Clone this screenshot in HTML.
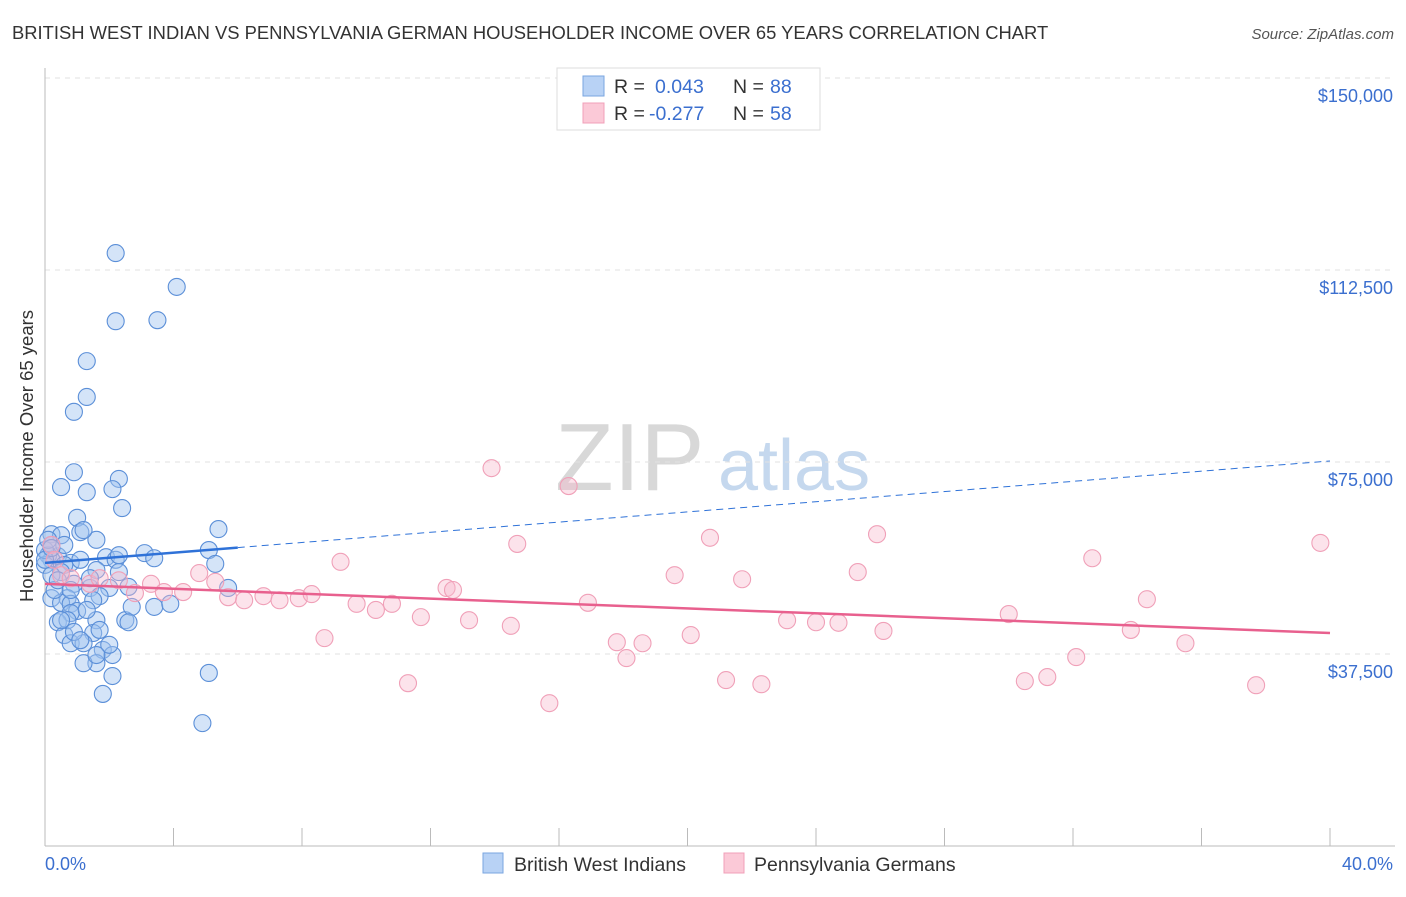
<!DOCTYPE html>
<html><head><meta charset="utf-8"><style>
body{margin:0;background:#fff;font-family:"Liberation Sans",sans-serif}
svg text{font-family:"Liberation Sans",sans-serif}
</style></head><body>
<svg id="c" width="1406" height="892" xmlns="http://www.w3.org/2000/svg">
<text x="12" y="39" font-size="18.4" fill="#333">BRITISH WEST INDIAN VS PENNSYLVANIA GERMAN HOUSEHOLDER INCOME OVER 65 YEARS CORRELATION CHART</text>
<text x="1394" y="39" font-size="15" fill="#555" font-style="italic" text-anchor="end">Source: ZipAtlas.com</text>
<g><text x="555" y="490" font-size="96" font-family="Liberation Serif,serif" fill="#d8d8d8">ZIP</text><text x="718" y="490" font-size="72" fill="#c5d8ee">atlas</text></g>
<g id="grid"></g><g id="axes"></g><g id="pts"></g><g id="trend"></g>
<text x="33" y="456" font-size="18.5" fill="#333" transform="rotate(-90 33 456)" text-anchor="middle">Householder Income Over 65 years</text>
<text x="45" y="870" font-size="18" fill="#3b6fcf">0.0%</text>
<text x="1393" y="870" font-size="18" fill="#3b6fcf" text-anchor="end">40.0%</text>
<g>
<rect x="557" y="68" width="263" height="62" fill="#fff" stroke="#ddd"/>
<rect x="583" y="76" width="21" height="20" fill="#b8d2f5" stroke="#7aa6e0"/>
<rect x="583" y="103" width="21" height="20" fill="#fbc9d7" stroke="#f0a0b8"/>
<text x="614" y="93" font-size="19.5" fill="#333">R = </text><text x="655" y="93" font-size="19.5" fill="#3b6fcf">0.043</text>
<text x="733" y="93" font-size="19.5" fill="#333">N = </text><text x="770" y="93" font-size="19.5" fill="#3b6fcf">88</text>
<text x="614" y="120" font-size="19.5" fill="#333">R = </text><text x="649" y="120" font-size="19.5" fill="#3b6fcf">-0.277</text>
<text x="733" y="120" font-size="19.5" fill="#333">N = </text><text x="770" y="120" font-size="19.5" fill="#3b6fcf">58</text>
</g>
<g>
<rect x="483" y="853" width="20" height="20" fill="#b8d2f5" stroke="#7aa6e0"/>
<text x="514" y="871" font-size="19.5" fill="#333">British West Indians</text>
<rect x="724" y="853" width="20" height="20" fill="#fbc9d7" stroke="#f0a0b8"/>
<text x="754" y="871" font-size="19.5" fill="#333">Pennsylvania Germans</text>
</g>
</svg>
<script>
const yTicks=[37500,75000,112500,150000];
const yTickLabels=["$37,500","$75,000","$112,500","$150,000"];
const xTicks=[0,4,8,12,16,20,24,28,32,36,40];
const blueX=[2.2,4.1,2.2,3.5,1.3,1.3,0.9,0.9,0.5,1.3,2.3,2.1,2.4,5.4,1.0,0.2,0.5,1.1,1.6,1.2,0.4,0.8,1.9,3.1,2.2,3.4,5.1,5.3,0.2,0.1,0.2,0.6,0.5,1.6,2.3,0.9,1.4,2.0,2.6,5.7,0.7,1.7,0.2,0.5,0.8,1.0,0.8,0.4,0.6,0.8,1.6,1.5,1.7,1.2,1.8,2.1,2.5,2.7,3.4,3.9,1.6,1.2,2.1,1.8,5.1,4.9,0.0,0.0,0.1,0.2,0.3,0.6,1.1,1.4,2.6,2.0,1.6,0.7,0.9,1.5,0.0,0.2,0.4,0.8,0.5,1.1,1.3,2.3];
const blueY=[115.8,109.2,102.5,102.7,94.7,87.7,84.8,73.0,70.1,69.1,71.7,69.7,66.0,61.9,64.1,60.9,60.7,61.3,59.8,61.7,56.6,55.3,56.4,57.2,55.9,56.2,57.8,55.1,58.8,56.8,55.9,54.9,53.5,53.9,53.5,51.2,50.4,50.4,50.6,50.4,48.4,48.8,48.4,47.5,47.3,45.9,45.5,43.7,41.2,39.6,44.1,41.6,42.2,39.6,38.3,37.3,44.1,46.7,46.7,47.3,35.7,35.7,33.2,29.7,33.8,24.0,54.9,57.8,59.8,52.9,50.0,58.8,55.9,52.3,43.7,39.3,37.3,44.1,41.8,48.0,55.9,58.2,51.9,50.0,44.1,40.2,46.1,56.8];
const pinkX=[0.2,0.3,0.5,0.8,1.4,1.7,2.3,2.8,3.3,3.7,4.3,4.8,5.3,5.7,6.2,6.8,7.3,7.9,8.3,8.7,9.2,9.7,10.3,10.8,11.3,11.7,12.5,12.7,13.2,13.9,14.5,14.7,15.7,16.3,16.9,17.8,18.1,18.6,19.6,20.1,20.7,21.2,21.7,22.3,23.1,24.0,24.7,25.3,25.9,26.1,30.0,30.5,31.2,32.1,32.6,33.8,34.3,35.5,37.7,39.7];
const pinkY=[58.8,55.9,52.9,52.3,51.2,52.3,51.9,49.4,51.2,49.6,49.6,53.3,51.6,48.6,48.0,48.8,48.0,48.4,49.2,40.6,55.5,47.3,46.1,47.3,31.8,44.7,50.4,50.0,44.1,73.8,43.0,59.0,27.9,70.3,47.5,39.8,36.7,39.6,52.9,41.2,60.2,32.4,52.1,31.6,44.1,43.7,43.6,53.5,60.9,42.0,45.3,32.2,33.0,36.9,56.2,42.2,48.2,39.6,31.4,59.2];
const blueTrend=[55.3,75.2]; // $k at 0% and 40%
const pinkTrend=[51.2,41.6];
const blueSolidEnd=6.0;
const NS="http://www.w3.org/2000/svg";
const X=v=>45+v/40*1285, Y=v=>846-v/37500*192;
function mk(t,a,p){const e=document.createElementNS(NS,t);for(const k in a)e.setAttribute(k,a[k]);p.appendChild(e);return e;}
const g=document.getElementById('grid'),ax=document.getElementById('axes'),pts=document.getElementById('pts'),tr=document.getElementById('trend');
yTicks.forEach((v,i)=>{
 const l=mk('line',{x1:45,x2:1395,y1:Y(v),y2:Y(v),stroke:'#e2e2e2','stroke-dasharray':'5,5'},g);
 
 
 const t=mk('text',{x:1393,y:Y(v)+24,'font-size':18,fill:'#3b6fcf','text-anchor':'end'},g);t.textContent=yTickLabels[i];
 
 
});
const a1=mk('line',{x1:45,x2:45,y1:68,y2:846,stroke:'#bbb'},ax);


const a2=mk('line',{x1:45,x2:1395,y1:846,y2:846,stroke:'#bbb'},ax);


xTicks.forEach(v=>{const l=mk('line',{x1:X(v),x2:X(v),y1:828,y2:846,stroke:'#bbb'},ax);
 
 });
blueX.forEach((v,i)=>{const c=mk('circle',{cx:X(v),cy:Y(blueY[i]*1000),r:8.5,fill:'rgba(160,196,240,0.45)',stroke:'#5b8fd8','stroke-width':1.1},pts);
 
 });
pinkX.forEach((v,i)=>{const c=mk('circle',{cx:X(v),cy:Y(pinkY[i]*1000),r:8.5,fill:'rgba(248,185,205,0.4)',stroke:'#f0a0b8','stroke-width':1.1},pts);
 
 });
const bAt=x=>(blueTrend[0]+(blueTrend[1]-blueTrend[0])*x/40)*1000;
const t1=mk('line',{x1:X(0),y1:Y(bAt(0)),x2:X(blueSolidEnd),y2:Y(bAt(blueSolidEnd)),stroke:'#2f72d8','stroke-width':2.5},tr);


const t2=mk('line',{x1:X(blueSolidEnd),y1:Y(bAt(blueSolidEnd)),x2:X(40),y2:Y(bAt(40)),stroke:'#2f72d8','stroke-width':1,'stroke-dasharray':'7,5'},tr);


const t3=mk('line',{x1:X(0),y1:Y(pinkTrend[0]*1000),x2:X(40),y2:Y(pinkTrend[1]*1000),stroke:'#e8608e','stroke-width':2.5},tr);


</script>
</body></html>
